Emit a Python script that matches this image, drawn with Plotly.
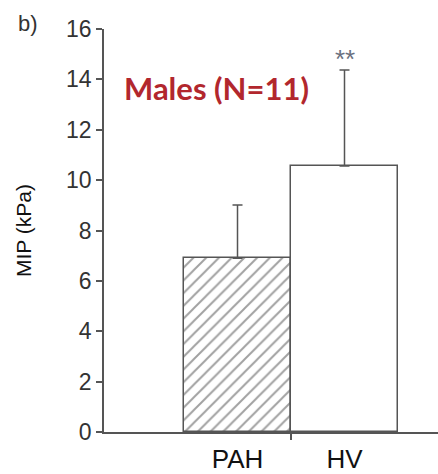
import plotly.graph_objects as go

categories = ["PAH", "HV"]
means = [6.9, 10.56]
sd_upper = [2.11, 3.81]
sig_label = ["", "**"]
y_ticks = [0, 2, 4, 6, 8, 10, 12, 14, 16]

W, H = 438, 474
ml, mr, mt, mb = 104, 0, 29, 42
xs = list(range(len(categories)))

fig = go.Figure()
fig.add_trace(go.Bar(
    x=xs, y=means, width=1.0,
    marker=dict(
        color=["white", "white"],
        line=dict(color="#555555", width=1.5),
        pattern=dict(shape=["/", ""], fgcolor="#1a1a1a", bgcolor="white",
                     size=9, solidity=0.22, fillmode="overlay"),
    ),
    error_y=dict(type="data", symmetric=False, array=sd_upper,
                 arrayminus=[0] * len(means), color="#555555",
                 thickness=1.5, width=5),
    showlegend=False,
))

for i, (m, s, lab) in enumerate(zip(means, sd_upper, sig_label)):
    if lab:
        fig.add_annotation(x=xs[i], y=m + s, text=lab, showarrow=False,
                           yanchor="bottom", yshift=-6,
                           font=dict(family="Liberation Sans", size=26, color="#6a7080"))

fig.add_annotation(xref="paper", yref="paper", x=(216 - ml) / (W - ml - mr),
                   y=1 - (88 - mt) / (H - mt - mb), text="<b>Males (N=11)</b>",
                   showarrow=False, xanchor="center", yanchor="middle",
                   font=dict(family="Lato", size=31, color="#b2272d"))

fig.add_annotation(xref="paper", yref="paper", x=(28 - ml) / (W - ml - mr),
                   y=1 - (24 - mt) / (H - mt - mb), text="b)",
                   showarrow=False, xanchor="center", yanchor="middle",
                   font=dict(family="Liberation Sans", size=22, color="#333333"))

fig.update_layout(
    width=W, height=H,
    margin=dict(l=ml, r=mr, t=mt, b=mb, autoexpand=False),
    plot_bgcolor="white", paper_bgcolor="white",
    bargap=0,
    xaxis=dict(
        range=[-1.248, 1.874], tickvals=xs, ticktext=categories,
        ticks="", showline=True, linecolor="#555555", linewidth=1.5,
        showgrid=False, zeroline=False, automargin=False,
        ticklabelstandoff=3,
        tickfont=dict(family="Liberation Sans", size=26, color="#111111"),
        minor=dict(tickvals=[0.5], ticks="outside", ticklen=6,
                   tickcolor="#555555", tickwidth=1.5),
    ),
    yaxis=dict(
        range=[0, 16], tickvals=y_ticks, ticks="outside", ticklen=6,
        tickcolor="#555555", tickwidth=1.5,
        showline=True, linecolor="#555555", linewidth=1.5,
        showgrid=False, zeroline=False, automargin=False,
        tickfont=dict(family="Liberation Sans", size=23, color="#333333"),
        title=dict(text="MIP (kPa)", standoff=29,
                   font=dict(family="Liberation Sans", size=21, color="#111111")),
    ),
)

fig.write_html("out.html", config={"displayModeBar": False},
               post_script="document.body.style.margin='0';document.body.style.overflow='hidden';")
